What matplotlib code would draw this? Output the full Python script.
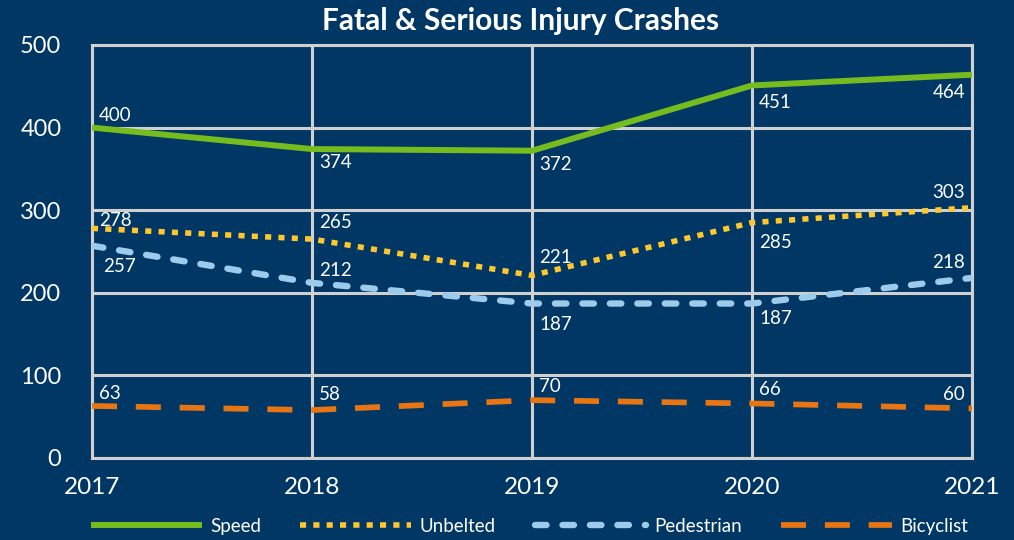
import matplotlib
matplotlib.use("Agg")
import matplotlib.pyplot as plt

years = [2017, 2018, 2019, 2020, 2021]
speed = [400, 374, 372, 451, 464]
unbelted = [278, 265, 221, 285, 303]
pedestrian = [257, 212, 187, 187, 218]
bicyclist = [63, 58, 70, 66, 60]
series_names = ["Speed", "Unbelted", "Pedestrian", "Bicyclist"]
y_ticks = [0, 100, 200, 300, 400, 500]

BG = "#003764"
GRID = "#d0d0d0"
colors = ["#77bc1f", "#ffc72c", "#9dcbec", "#e87511"]

plt.rcParams['font.family'] = ['Lato', 'DejaVu Sans']

fig = plt.figure(figsize=(10.14, 5.4), dpi=100, facecolor=BG)
ax = fig.add_axes([0.0907, 0.1519, 0.8679, 0.7648])
ax.set_facecolor(BG)

styles = [
    dict(linestyle="-", lw=4.3, solid_capstyle="butt"),
    dict(linestyle=(0, (1.1, 1.3)), lw=4.0, dash_capstyle="butt"),
    dict(linestyle=(0, (1.8, 2.5)), lw=4.6, dash_capstyle="round"),
    dict(linestyle=(0, (4.4, 3.3)), lw=4.1, dash_capstyle="butt"),
]
data = [speed, unbelted, pedestrian, bicyclist]
for vals, name, c, st in zip(data, series_names, colors, styles):
    ax.plot(years, vals, color=c, label=name, zorder=3, **st)

# label placement offsets (points) and alignment
R, L = "left", "right"
place = [
    [(5, 9, R), (5, -10, R), (5, -10, R), (5, -12, R), (-5, -13, L)],
    [(5, 6, R), (5, 12, R), (5, 13, R), (5, -14, R), (-5, 11, L)],
    [(8, -15, R), (5, 9, R), (5, -15, R), (5, -11, R), (-5, 11, L)],
    [(5, 9, R), (5, 11, R), (5, 10, R), (5, 10, R), (-5, 10, L)],
]
for vals, pl in zip(data, place):
    for x, v, (dx, dy, ha) in zip(years, vals, pl):
        ax.annotate(str(v), (x, v), xytext=(dx, dy), textcoords="offset points",
                    ha=ha, va="center", color="white", fontsize=13.5, zorder=4)

ax.set_xlim(2017, 2021)
ax.set_ylim(0, 500)
ax.set_xticks(years)
ax.set_yticks(y_ticks)
ax.tick_params(colors="white", labelsize=17.5, length=0)
ax.tick_params(axis="x", pad=14)
ax.tick_params(axis="y", pad=22, labelsize=17)
ax.grid(True, color=GRID, lw=2.2, zorder=1)
for s in ax.spines.values():
    s.set_color(GRID)
    s.set_linewidth(2.2)

fig.text(0.513, 0.962, "Fatal & Serious Injury Crashes", ha="center", va="center",
         color="white", fontsize=21.5, fontweight="bold")

leg = fig.legend(loc="center left", bbox_to_anchor=(0.073, 0.025), ncol=4,
                 frameon=False, fontsize=13.5, labelcolor="white",
                 handlelength=5.9, columnspacing=2.1, handletextpad=0.45)

fig.savefig("out.png", dpi=100, facecolor=BG)
